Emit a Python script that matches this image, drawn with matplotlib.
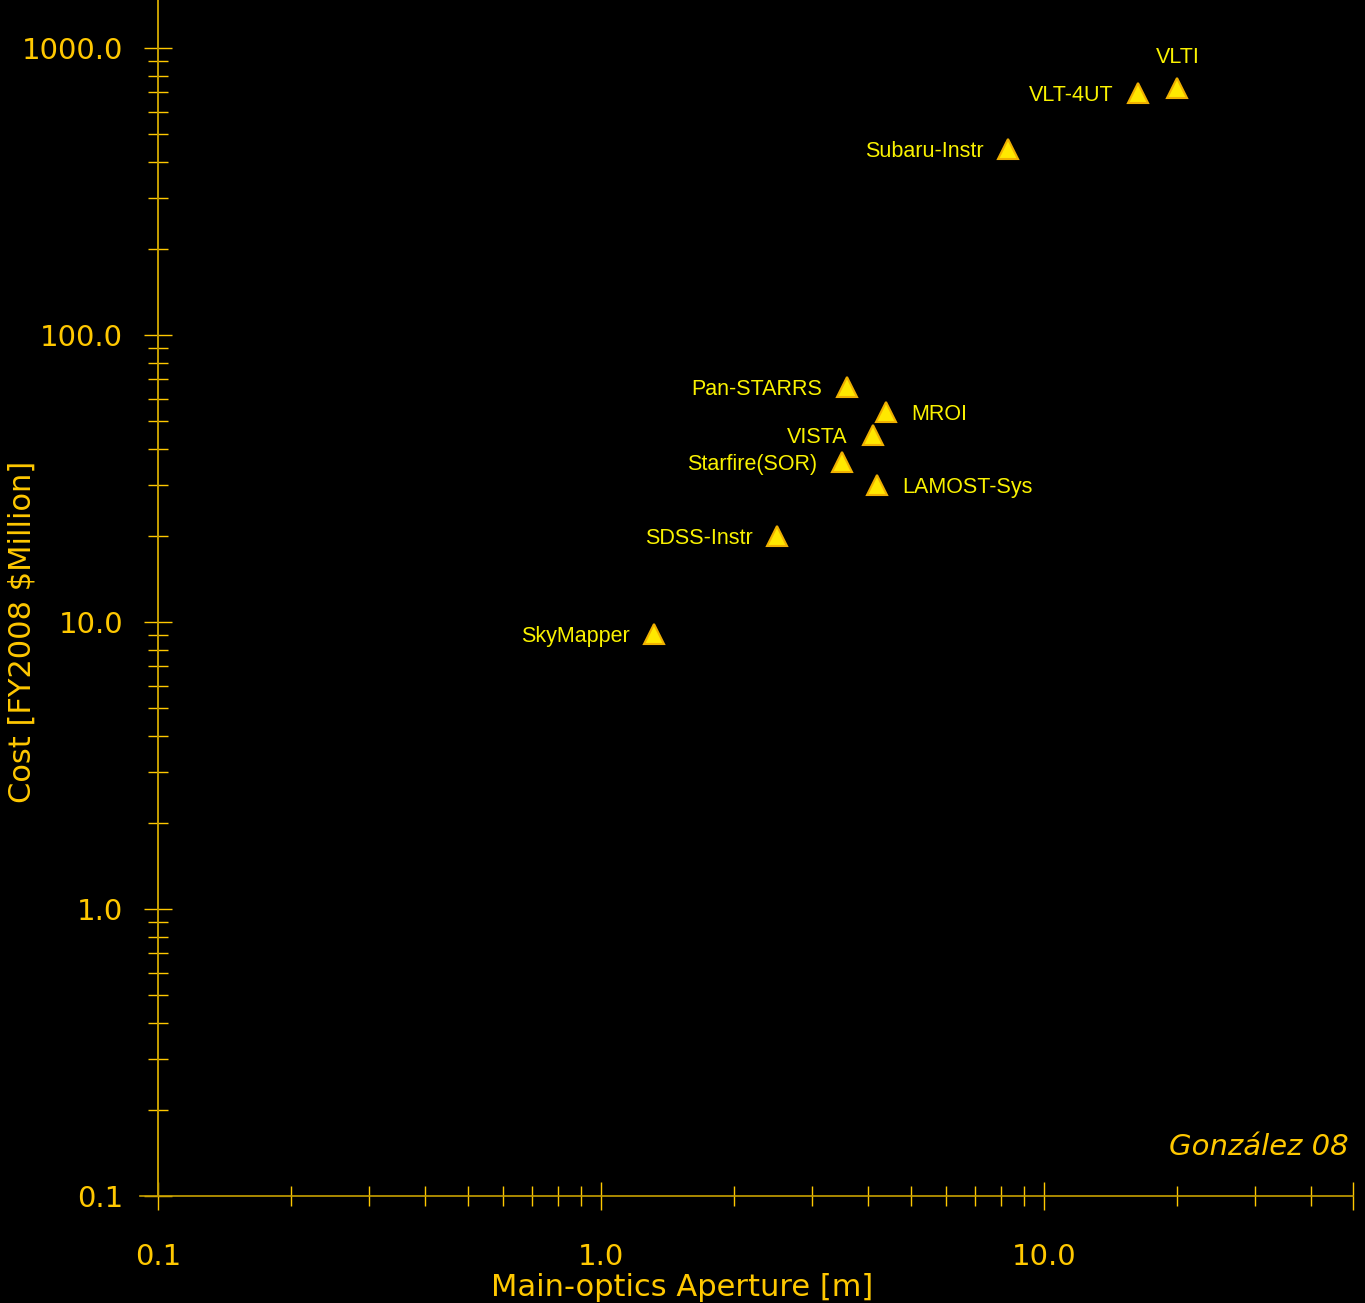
import numpy as np
import matplotlib.pyplot as plt
from matplotlib.ticker import LogLocator, NullFormatter, FixedLocator, FixedFormatter

# Data (aperture in m, cost in FY2008 $Million)
names = ['VLTI', 'VLT-4UT', 'Subaru-Instr', 'Pan-STARRS', 'MROI', 'VISTA',
         'Starfire(SOR)', 'LAMOST-Sys', 'SDSS-Instr', 'SkyMapper']
aperture = [20.0, 16.3, 8.3, 3.6, 4.4, 4.1, 3.5, 4.2, 2.5, 1.32]
cost = [726, 697, 445, 66, 54, 45, 36, 30, 20, 9.1]
label_side = ['top', 'left', 'left', 'left', 'right', 'left', 'left', 'right', 'left', 'left']

xticks = [0.1, 1.0, 10.0]
xtick_labels = ['0.1', '1.0', '10.0']
yticks = [0.1, 1.0, 10.0, 100.0, 1000.0]
ytick_labels = ['0.1', '1.0', '10.0', '100.0', '1000.0']

gold = '#FFC800'
axis_col = '#C8A000'
label_col = '#FAF200'
tick_font = 'DejaVu Sans'

fig = plt.figure(figsize=(13.65, 13.03), dpi=100, facecolor='black')
ax = fig.add_axes([140 / 1365, 107 / 1303, (1353 - 140) / 1365, 1196 / 1303])
ax.set_facecolor('black')
ax.set_xscale('log')
ax.set_yscale('log')
ax.set_xlim(0.0911, 49.8)
ax.set_ylim(0.1, 1470)

for s in ['top', 'right']:
    ax.spines[s].set_visible(False)
ax.spines['left'].set_position(('data', 0.1))
ax.spines['left'].set_color(axis_col)
ax.spines['bottom'].set_color(axis_col)
ax.spines['left'].set_linewidth(1.4)
ax.spines['bottom'].set_linewidth(1.2)

ax.xaxis.set_major_locator(FixedLocator(xticks + [49.8]))
ax.xaxis.set_major_formatter(FixedFormatter(xtick_labels + ['']))
ax.xaxis.set_minor_locator(LogLocator(base=10, subs=np.arange(2, 10), numticks=20))
ax.xaxis.set_minor_formatter(NullFormatter())
ax.yaxis.set_major_locator(FixedLocator(yticks))
ax.yaxis.set_major_formatter(FixedFormatter(ytick_labels))
ax.yaxis.set_minor_locator(LogLocator(base=10, subs=np.arange(2, 10), numticks=20))
ax.yaxis.set_minor_formatter(NullFormatter())

ax.tick_params(axis='both', which='major', direction='inout', length=20, width=1,
               color=gold, labelcolor=gold, labelsize=21)
ax.tick_params(axis='both', which='minor', direction='inout', length=15, width=1, color=gold)
ax.tick_params(axis='x', which='major', pad=24)
ax.tick_params(axis='y', which='major', pad=15)
for t in ax.get_xticklabels() + ax.get_yticklabels():
    t.set_family(tick_font)

ax.plot(aperture, cost, linestyle='none', marker='^', markersize=14,
        markerfacecolor='#FFE800', markeredgecolor='#F0B000', markeredgewidth=1.5,
        clip_on=False)

for name, x, y, side in zip(names, aperture, cost, label_side):
    if side == 'left':
        off, ha, va = (-18, 0), 'right', 'center_baseline'
    elif side == 'right':
        off, ha, va = (18, 0), 'left', 'center_baseline'
    else:
        off, ha, va = (0, 24), 'center', 'center_baseline'
    ax.annotate(name, (x, y), xytext=off, textcoords='offset points',
                ha=ha, va=va, color=label_col, fontsize=15.5, family='Liberation Sans')

fig.text(682 / 1365, 1 - 1287 / 1303, 'Main-optics Aperture [m]', color=gold,
         fontsize=22, ha='center', va='center', family=tick_font)
fig.text(22 / 1365, 1 - 632 / 1303, 'Cost [FY2008 $Million]', color=gold,
         fontsize=22, ha='center', va='center', rotation=90, family=tick_font)
fig.text(1349 / 1365, 1 - 1147 / 1303, 'González 08', color=gold,
         fontsize=21, ha='right', va='center', style='italic', family=tick_font)

fig.savefig('out.png', dpi=100, facecolor='black')
